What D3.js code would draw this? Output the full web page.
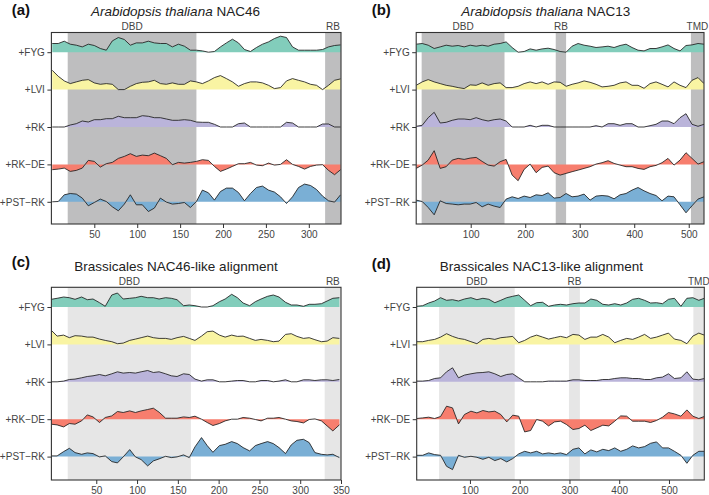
<!DOCTYPE html>
<html><head><meta charset="utf-8">
<script src="https://cdn.jsdelivr.net/npm/d3@7"></script>
<style>body{margin:0;background:#fff}svg{display:block;font-family:"Liberation Sans",Arial,Helvetica,sans-serif}</style>
</head><body><svg id="chart" width="709" height="495"></svg>
<script>
// ---------- DATA ----------
const tracks = ["+FYG", "+LVI", "+RK", "+RK\u2212DE", "+PST\u2212RK"];

// (a) Arabidopsis thaliana NAC46
const domainA = [0, 337.5];
const ticksA = [50, 100, 150, 200, 250, 300];
const regionsA = [["DBD", 19, 169], ["RB", 319, 337.5]];
const posA = [1,8,15,22,29,36,43,50,57,64,71,78,85,92,99,106,113,120,127,134,141,148,155,162,169,176,183,190,197,204,211,218,225,232,239,246,253,260,267,274,281,288,295,302,309,316,323,330,337];
const fygA = [8.7,8.7,11,8,7,5.3,8,6.7,3.7,2,11.3,14.7,12.7,7,9.3,9.3,11,9.3,8.7,8.7,5.3,8,6,2,2,1.3,0,0.7,5.3,9.3,13,9.3,2.7,0.7,4.7,8,10.3,13.7,16,14.7,5.3,2,2,2,2,2.7,5.3,6.7,7.3];
const lviA = [19.3,13.3,8.7,6,7.7,9.3,10,6.7,5.3,6,5.3,0,0,3.3,6,7.3,7.7,9.3,6,5.3,6.7,5.3,5.3,8.7,7.7,6,8.7,12,14,11,7.7,3.3,6,7.7,7.7,6.7,4.3,1,2,8.7,11,9.3,7.7,5.3,4.3,0,4.3,9.3,10.7];
const rkA = [0,0,0,2,3.3,6,5,7.3,7.3,8.3,8.3,10.7,9.3,9.3,9.3,11.3,10.7,9.3,9.3,8,6.7,6.7,7.3,6.7,5,4.7,4.7,2.7,0,0,0,3.3,4,0,0,0,0,0,0,4.7,4,0,0,0,0,3,3,0,0];
const rkdeA = [-5.3,-4.7,-3.7,-7,-6,-3.7,4,3,-2.7,0.7,2,6,8,10.7,8,9.3,8.7,11.3,8.7,6,-0.3,2,1.3,2,3,4.7,4,-2,-7,-4.7,-2,0.7,0.7,2,-0.7,-1.3,1.3,-0.7,0,4.7,0,-2,-4.7,-2,-0.7,-0.3,-6,-10.3,-5.3];
const pstA = [0,0.3,7,8.3,7.7,3.7,-4,-0.7,2.7,0.3,-5,-9,-2.3,7,-3,-3,-9.7,-6.3,3.7,-0.3,-2.3,-1.7,-0.7,-5.7,0.3,11.7,9,1.7,10.3,13.7,13.7,9.3,1,8.3,14.3,15.7,11.7,9.7,5,-1.7,5,14.3,17.7,16.3,12.3,5.7,1,-0.3,7];

// (b) Arabidopsis thaliana NAC13
const domainB = [0, 528];
const ticksB = [100, 200, 300, 400, 500];
const regionsB = [["DBD", 10, 162], ["RB", 256, 275], ["TMD", 504, 528]];
const posB = [0,11,22,33,44,55,66,77,88,99,110,121,132,143,154,165,176,187,198,209,220,231,242,253,264,275,286,297,308,319,330,341,352,363,374,385,396,407,418,429,440,451,462,473,484,495,506,517,528];
const fygB = [8,8.7,7,3.7,5.3,7,6,6.7,5.3,7,6,7,6,8,8.7,10.3,4.7,0,0.7,3.3,2,3.3,4,2.7,0.7,0,6,8.7,7,6,4.7,5.3,6,4.7,6.7,8,4.7,2,1.3,3.7,3.7,5.3,7.3,3.7,1.3,6.7,7.3,8.7,8];
const lviB = [4.3,7.7,10,7.7,6,4.3,3.3,2,1,4.7,4.3,6.7,4.3,6,6.7,2,2,3.3,6,7.7,6,7.7,5.3,7.7,7.3,3.3,5.3,6.7,8.7,7.3,5.3,2.7,3.3,4.3,6.7,7.7,4.3,4.3,1.3,6,7.7,5.3,2.7,7.7,4.3,2,9.3,12,6];
const rkB = [0.7,1.7,9.3,14.7,4,4.7,6.7,8,8,7.3,9.3,7.3,6,7.3,8,6,0,0,0,1.7,0,1.7,1.7,0,0,0,0,0,0,0,1.3,0,3.3,3.3,1.7,3.3,3.3,0,0,1.3,2.7,6,6,3.3,9.3,13.3,2.7,0.7,2.7];
const rkdeB = [-4,-0.7,4.3,13.7,-4,-2.3,4.3,6,5,6.3,7,3,-0.7,-1.7,2.7,5,-10.7,-16.3,-5,0.3,-8.3,-3,-1.7,-8.3,-10.7,-9,-7.3,-5.7,-4,-2.3,0.3,1.7,3.7,1,-0.7,-2.3,-2.3,-4,-5,-2.3,-1,1.7,6,-0.7,4.3,11.7,6,0.3,2.7];
const pstB = [1.7,0.3,-5.7,-13,1,-1.7,-2.3,-3,-2.3,-2.3,-0.7,-5,-2.3,-4.3,-5.7,2.7,5,3.3,5.7,4.3,7,6.3,9,3.7,4.3,8.3,5,5.7,7.7,1.7,5.7,6.3,5.7,3,7,8.3,11.7,14.3,11,8.3,6.3,1,5.7,5,-3,-11,-4,2.7,5];

// (c) Brassicales NAC46-like alignment
const domainC = [-5, 350];
const ticksC = [50, 100, 150, 200, 250, 300, 350];
const regionsC = [["DBD", 15, 166], ["RB", 330, 350]];
const posC = [-5,2,10,17,24,32,39,46,54,61,69,76,83,91,98,105,113,120,127,135,142,149,157,164,171,179,186,193,201,208,216,223,230,238,245,252,260,267,274,282,289,296,304,311,318,326,333,340,348];
const fygC = [7.7,8.7,10,9.3,7.7,10,7.3,8,4.3,0.7,12,14,8,8.7,9.3,10.7,9.3,9.3,8,9.3,8.7,7.3,1.3,2,1.3,0,0,1.3,5.3,8,12.7,9.3,4,1.3,5.3,8,10.7,12,10,4.7,2,2,0.7,2.7,2.7,3.3,6,8.7,9.3];
const lviC = [14,8.3,9.3,6.7,8.7,8.3,7.3,7.3,5.3,4,2.7,0.7,1.3,4,5.3,6.7,8.3,6.7,6,6,5,6.7,8,6,4,8.3,12.7,13.3,9.3,7.3,9.3,8,8.3,6,4,5,4,2.7,3.3,10,10.7,8,6,6.7,4.7,2.7,3.3,6.7,6];
const rkC = [0,0,0.7,2.3,2.7,4,5.3,6,7.3,6,8,10,8.7,9.3,8.7,10,11.3,9.3,10,8,6,5.3,8,7.3,2.7,0.7,2,2,0,0,0.7,1.3,1.3,0,0,1.3,1.3,0,0.7,2,0,0,2,2,1.3,2,2,1.3,2.3];
const rkdeC = [-5,-5.7,-7.7,-4.3,-5,-1.7,4.3,2.3,-3.3,1.7,3.3,7.7,6.7,8.3,6.7,8.3,9.7,11,7,1,1,1,2.3,1.7,3,0,-3.3,-6.3,-4.3,-1.7,0,0,1.7,1,-0.3,-1.7,1,1,1.7,0,-1.7,-2.3,-3.7,-0.3,0.3,-1.7,-6.7,-11.7,-5.7];
const pstC = [0.7,0.7,5,8.3,4,2.3,3.7,3,-0.3,0.7,-5,-6.3,-0.3,7,-0.3,-3,-9.3,-4.3,-2.3,0.3,-1,-0.3,1.7,-1,9.7,19,11,4.3,11,12.3,15,13,9,5.7,11,13,15,13,9,3,11.7,16.3,17.3,14,4,2.3,1.7,2.3,-1];

// (d) Brassicales NAC13-like alignment
const domainD = [-7, 571];
const ticksD = [100, 200, 300, 400, 500];
const regionsD = [["DBD", 38, 190], ["RB", 299, 321], ["TMD", 549, 571]];
const posD = [-7,5,17,29,41,53,65,77,89,102,114,126,138,150,162,174,186,198,210,222,234,246,258,270,282,294,307,319,331,343,355,367,379,391,403,415,427,439,451,463,475,487,499,511,524,536,548,560,571];
const fygD = [0.7,1.3,4,6,9.3,6.7,7.3,6,8,9.3,7.3,8.7,7.7,4.3,6.7,9.3,10.7,12,6.7,1.3,4.3,4.7,0.7,2,2.7,2,3.3,4,4,8,6.7,2.7,2,3.3,2,4,7.7,8.7,6.7,4,4.3,3.3,7.7,8.7,0.7,8.7,9.3,6.7,8.7];
const lviD = [2.7,2.7,4,5,7.3,10.7,8,6,5,2.7,0.7,5,6,5,6.7,7.3,8,1.7,4,7.3,9.3,7.3,5.3,6.7,8,6.7,10,9.3,5,7.3,7.3,10,7.3,1.7,4,6,5,7.3,10,6,7.3,9.3,11.3,5.3,4,0.7,8.3,11.3,9.3];
const rkD = [0.7,0.7,1.3,3.3,4,10,14,4,6.7,8,9,9.3,10,8,5.3,7.3,8,4,0,0,0,0,0.7,0.7,0.7,0.7,2,2,1.3,1.3,1.3,2.3,2.3,3.3,4,4,3.3,3.3,2.3,2.3,4,4.7,8,3.3,4,10,2.7,2,3.3];
const rkdeD = [0.7,1.3,2,0.7,2.7,13,11.3,-4.7,4.7,8,6.3,8.7,7.3,8,4.7,-2.7,4,3,-12.7,-11.3,-0.3,-2,-6.7,-2.7,-2,-5.3,-10.3,-9.3,-6,-11.3,-8.7,-6,-6.7,-2,3.3,3,-2,-2,-2,-3.3,-1.3,2,6.7,5.3,3,9.3,3,0.7,2.7];
const pstD = [1.3,1.3,3.7,2,1.3,-9.7,-13,1.3,-0.7,0.3,-0.7,-2.7,-0.7,-4,-2,-5.3,-2,2.7,5.3,3.7,5.3,2.7,3.7,2.7,3.7,2,7.3,8.7,2.7,6.7,4.7,7.3,6,8.7,5.3,7.3,10.7,8.7,10,13.3,14.7,8.7,8.7,5.3,1.3,-6.7,1.3,5.3,5.3];

// ---------- STYLE / LAYOUT ----------
const trackColors = ["#82cdbb", "#f9f4a3", "#bab4da", "#f77e6e", "#7aafd5"];
const panels = [
  {key:"a", letter:"(a)", italic:"Arabidopsis thaliana", rest:" NAC46", pos:posA, series:[fygA,lviA,rkA,rkdeA,pstA], domain:domainA, ticks:ticksA, regions:regionsA, shade:"#bebebf", box:[51.4,341,32.5,224], title:[175.5,15.5], lab:[11.7,15]},
  {key:"b", letter:"(b)", italic:"Arabidopsis thaliana", rest:" NAC13", pos:posB, series:[fygB,lviB,rkB,rkdeB,pstB], domain:domainB, ticks:ticksB, regions:regionsB, shade:"#bebebf", box:[416.2,704,32.5,224], title:[545.8,15.5], lab:[371.7,15]},
  {key:"c", letter:"(c)", italic:"", rest:"Brassicales NAC46-like alignment", pos:posC, series:[fygC,lviC,rkC,rkdeC,pstC], domain:domainC, ticks:ticksC, regions:regionsC, shade:"#e6e6e6", box:[51.4,341,287.3,480], title:[176,271], lab:[11.7,267]},
  {key:"d", letter:"(d)", italic:"", rest:"Brassicales NAC13-like alignment", pos:posD, series:[fygD,lviD,rkD,rkdeD,pstD], domain:domainD, ticks:ticksD, regions:regionsD, shade:"#e6e6e6", box:[416.7,704.3,287.3,480], title:[541.3,270.5], lab:[371.7,269]}
];

const svg = d3.select("#chart");
svg.append("rect").attr("width",709).attr("height",495).attr("fill","#fff");

panels.forEach(P => {
  const [x0, x1, y0, y1] = P.box;
  const g = svg.append("g");
  const x = d3.scaleLinear().domain(P.domain).range([x0, x1]);
  const yTrack = d3.scalePoint().domain(tracks).range([y0 + 19.7, y0 + 19.7 + 4 * 37.4]);
  const yv = d3.scaleLinear().domain([-20, 20]).range([20, -20]);
  const clipId = "clip-" + P.key;
  g.append("clipPath").attr("id", clipId).append("rect")
    .attr("x", x0).attr("y", y0).attr("width", x1 - x0).attr("height", y1 - y0);

  // shaded domains
  g.selectAll("rect.shade").data(P.regions).join("rect").attr("class","shade")
    .attr("x", d => x(d[1])).attr("width", d => x(d[2]) - x(d[1]))
    .attr("y", y0).attr("height", y1 - y0).attr("fill", P.shade)
    .attr("clip-path", `url(#${clipId})`);
  g.selectAll("text.rlab").data(P.regions).join("text").attr("class","rlab")
    .attr("x", d => (x(d[1]) + x(d[2])) / 2).attr("y", y0 - 2.3)
    .attr("text-anchor", "middle").attr("font-size", 10).attr("fill", "#444")
    .text(d => d[0]);

  // tracks
  const clipG = g.append("g").attr("clip-path", `url(#${clipId})`);
  tracks.forEach((t, i) => {
    const base = yTrack(t);
    const pts = P.pos.map((p, j) => ({p, v: P.series[i][j]}));
    const area = d3.area().x(d => x(d.p)).y0(base).y1(d => base + yv(d.v));
    const line = d3.line().x(d => x(d.p)).y(d => base + yv(d.v));
    clipG.append("path").datum(pts).attr("d", area).attr("fill", trackColors[i]);
    clipG.append("path").datum(pts).attr("d", line).attr("fill", "none")
      .attr("stroke", "#1e1e1e").attr("stroke-width", 0.85).attr("stroke-linejoin", "round");
  });

  // frame
  g.append("rect").attr("x", x0).attr("y", y0).attr("width", x1 - x0).attr("height", y1 - y0)
    .attr("fill", "none").attr("stroke", "#333").attr("stroke-width", 1.1);

  // axes
  const ax = d3.axisBottom(x).tickValues(P.ticks).tickSize(4).tickPadding(2.5).tickFormat(d3.format("d"));
  const gx = g.append("g").attr("transform", `translate(0,${y1})`).call(ax);
  gx.select(".domain").remove();
  gx.selectAll("line").attr("stroke", "#333");
  gx.selectAll("text").attr("font-size", 10).attr("fill", "#444").attr("font-family", null);

  const ay = d3.axisLeft(yTrack).tickSize(4).tickPadding(2.5);
  const gy = g.append("g").attr("transform", `translate(${x0},0)`).call(ay);
  gy.select(".domain").remove();
  gy.selectAll("line").attr("stroke", "#333");
  gy.selectAll("text").attr("font-size", 10).attr("fill", "#444").attr("font-family", null);

  // titles
  const tt = svg.append("text").attr("x", P.title[0]).attr("y", P.title[1])
    .attr("text-anchor", "middle").attr("font-size", 13.5).attr("fill", "#222");
  if (P.italic) tt.append("tspan").attr("font-style", "italic").text(P.italic);
  tt.append("tspan").text(P.rest);
  svg.append("text").attr("x", P.lab[0]).attr("y", P.lab[1])
    .attr("font-size", 15).attr("font-weight", "bold").attr("fill", "#111").text(P.letter);
});
</script>
</body></html>
